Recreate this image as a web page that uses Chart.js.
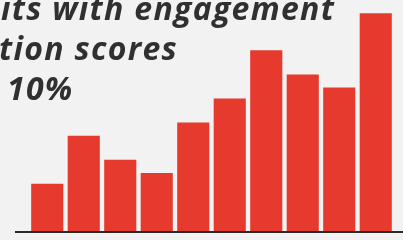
<!DOCTYPE html>
<html>
<head>
<meta charset="utf-8">
<script src="https://cdn.jsdelivr.net/npm/chart.js@4"></script>
<style>
    html, body { margin: 0; padding: 0; }
    body { width: 403px; height: 240px; overflow: hidden; background: #f2f2f2; position: relative; }
    #wrap { position: absolute; left: 0; top: 0; width: 403px; height: 240px; }
    .line { position: absolute; white-space: pre; font-family: "Open Sans", sans-serif; font-weight: bold; font-style: italic; font-size: 32px; line-height: 32px; letter-spacing: 1.3px; color: #303030; z-index: 2; }
    .pre { position: absolute; right: 100%; }
</style>
</head>
<body>
<div id="wrap"><canvas id="engagementChart" width="403" height="240"></canvas></div>
<div class="line" style="left:1px; top:-8px;"><span class="pre">un</span>its with engagement</div>
<div class="line" style="left:-1px; top:32px;"><span class="pre">satisfac</span>tion scores</div>
<div class="line" style="left:7px; top:72px;"><span class="pre">above </span>10%</div>
<script>
    // bar values (tallest bar = 100)
    var units = ['1', '2', '3', '4', '5', '6', '7', '8', '9', '10'];
    var scores = [22, 44, 33, 27, 50, 61, 83, 72, 66, 100];
    var scoreMax = 106;

    var baseline = {
        id: 'baseline',
        afterDatasetsDraw: function (chart) {
            var ctx = chart.ctx;
            var y = chart.scales.y.getPixelForValue(0);
            ctx.save();
            ctx.strokeStyle = '#2a2a2a';
            ctx.lineWidth = 2;
            ctx.beginPath();
            ctx.moveTo(15, y);
            ctx.lineTo(chart.width, y);
            ctx.stroke();
            ctx.restore();
        }
    };

    var ctx = document.getElementById('engagementChart').getContext('2d');
    new Chart(ctx, {
        type: 'bar',
        data: {
            labels: units,
            datasets: [{
                data: scores,
                backgroundColor: '#e63a2e',
                borderWidth: 0,
                barPercentage: 0.88,
                categoryPercentage: 1
            }]
        },
        options: {
            responsive: false,
            animation: false,
            layout: { padding: { left: 29, right: 9, top: 0, bottom: 8 } },
            plugins: {
                legend: { display: false },
                tooltip: { enabled: false }
            },
            scales: {
                x: { display: false },
                y: { display: false, min: 0, max: scoreMax }
            }
        },
        plugins: [baseline]
    });
</script>
</body>
</html>
